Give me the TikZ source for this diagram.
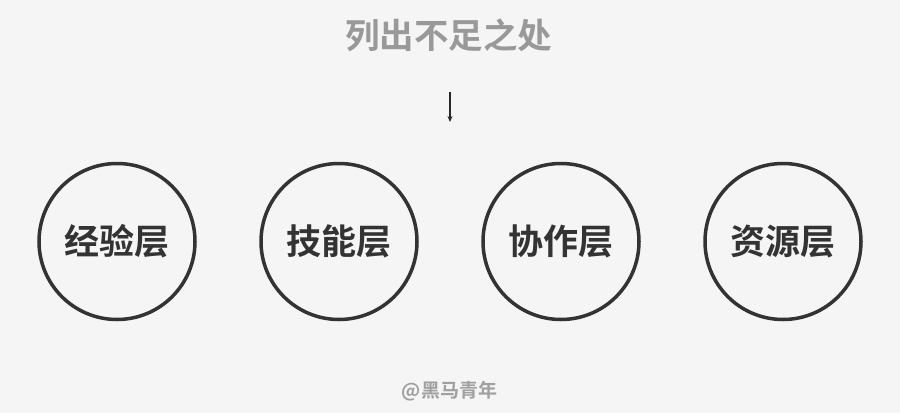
\documentclass[tikz,border=0pt]{standalone}
\usepackage{fontspec}
\newfontfamily\cjk{Noto Sans CJK SC}
\newfontfamily\cjkb{Noto Sans CJK SC Bold}
\usetikzlibrary{arrows.meta}
\definecolor{bg}{HTML}{F5F5F5}
\definecolor{titlegray}{HTML}{999999}
\definecolor{dark}{HTML}{333333}
\definecolor{wm}{HTML}{A0A0A0}
\tikzset{
  layer/.style={circle, draw=dark, line width=3.5pt, minimum size=156pt, inner sep=0pt,
    text=dark, font=\cjkb\fontsize{35}{35}\selectfont},
}
\begin{document}
\begin{tikzpicture}[x=1pt,y=-1pt]
\fill[bg] (0,0) rectangle (900,413);
\useasboundingbox (0,0) rectangle (900,413);
\node[text=titlegray, font=\cjkb\fontsize{34.5}{34.5}\selectfont] (title) at (448.5,35) {列出不足之处};
\coordinate (a1) at (450,92);
\coordinate (a2) at (450,122);
\draw[line width=1.2pt, draw=black!85, -{Stealth[length=6pt,width=5pt]}] (a1) -- (a2);
\node[layer] (l1) at (117,241.5) {经验层};
\node[layer] (l2) at (339,241.5) {技能层};
\node[layer] (l3) at (561,241.5) {协作层};
\node[layer] (l4) at (783,241.5) {资源层};
\node[text=wm, font=\cjkb\fontsize{19}{19}\selectfont] (wmk) at (449.5,391) {@黑马青年};
\end{tikzpicture}
\end{document}
